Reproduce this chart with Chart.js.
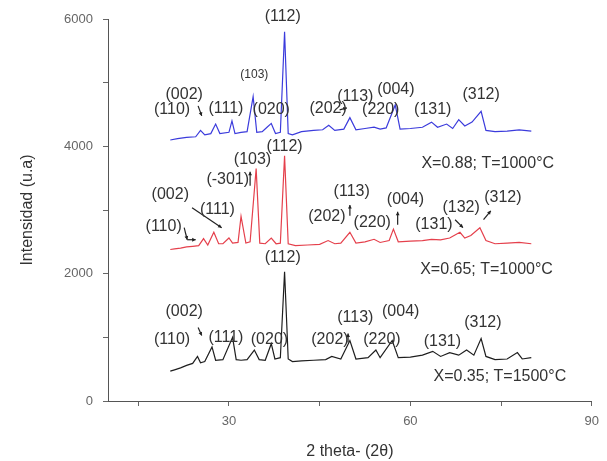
<!DOCTYPE html>
<html>
<head>
<meta charset="utf-8">
<script src="https://cdn.jsdelivr.net/npm/chart.js@4.4.1/dist/chart.umd.min.js"></script>
<style>
  body { margin: 0; background: #fff; }
  #wrap { width: 607px; height: 461px; }
</style>
</head>
<body>
<div id="wrap"><canvas id="xrdChart"></canvas></div>
<script>
/* ================= DATA ================= */
// X=0.35; T=1500°C (black)
const thetaBlack = [20.3, 21, 22, 23, 24, 24.8, 25.3, 26, 27.2, 27.8, 29, 30.6, 31.2, 32, 33, 34.2, 35, 36, 37, 37.6, 38.5, 39.2, 39.8, 40.5, 42, 44, 46, 47, 48.5, 50, 51, 53, 54.3, 55, 57, 58, 60, 62, 63.7, 65, 66.5, 68, 69.3, 70.5, 71.7, 72.5, 74, 76, 77.7, 78.5, 80];
const intBlack   = [470, 490, 520, 560, 590, 700, 600, 620, 850, 640, 650, 1000, 650, 640, 650, 800, 650, 640, 900, 660, 680, 2030, 660, 620, 630, 640, 650, 700, 660, 950, 660, 680, 800, 680, 950, 680, 690, 720, 780, 700, 760, 720, 800, 720, 980, 700, 650, 660, 760, 660, 680];

// X=0.65; T=1000°C (red)
const thetaRed = [20.3, 21, 22, 23, 24, 25, 25.8, 26.5, 27.5, 28.3, 29, 30, 30.6, 31.5, 32, 32.8, 33.5, 34.5, 35.1, 36, 37, 37.8, 38.5, 39.2, 39.8, 41, 43, 45, 46.4, 47.5, 48.5, 50, 51, 52.5, 54, 55, 56.5, 57.2, 58, 60, 62, 63.5, 65, 66.5, 68.2, 69, 70, 71.5, 72.5, 74, 76, 78, 80];
const intRed   = [2380, 2390, 2400, 2420, 2430, 2440, 2550, 2450, 2650, 2470, 2470, 2560, 2480, 2490, 2900, 2480, 2500, 3650, 2480, 2470, 2560, 2470, 2480, 3850, 2470, 2440, 2450, 2460, 2520, 2470, 2480, 2650, 2480, 2500, 2540, 2490, 2520, 2700, 2500, 2510, 2520, 2540, 2530, 2560, 2650, 2560, 2600, 2720, 2520, 2470, 2480, 2490, 2470];

// X=0.88; T=1000°C (blue)
const thetaBlue = [20.3, 21.5, 23, 24.5, 25.3, 26, 27, 27.8, 28.5, 30, 30.5, 31, 32, 33, 34, 34.6, 35.5, 36.3, 37, 37.7, 38.5, 39.2, 39.8, 40.5, 42, 44, 45.5, 46.5, 47.5, 49, 50, 51, 52.5, 54, 55, 56, 57.5, 58.3, 60, 62, 63.5, 64.5, 66, 67, 68, 69, 70.2, 71.7, 72.5, 74, 76, 78, 80];
const intBlue   = [4100, 4120, 4140, 4150, 4250, 4180, 4200, 4350, 4200, 4220, 4400, 4200, 4220, 4230, 4780, 4220, 4230, 4300, 4360, 4200, 4220, 5800, 4200, 4180, 4230, 4250, 4260, 4330, 4250, 4270, 4450, 4260, 4280, 4300, 4270, 4290, 4650, 4270, 4280, 4300, 4380, 4300, 4350, 4280, 4420, 4320, 4380, 4550, 4250, 4230, 4240, 4260, 4240];

// axis ticks
const xTicks = [15, 30, 45, 60, 75, 90];
const xTickLabels = [30, 60, 90];
const yTicks = [0, 1000, 2000, 3000, 4000, 5000, 6000];
const yTickLabels = [0, 2000, 4000, 6000];

// peak labels (text, 2theta, intensity)
const peakText  = ["(112)", "(002)", "(110)", "(111)", "(020)", "(202)", "(113)", "(004)", "(220)", "(131)", "(312)",
                   "(103)", "(112)", "(-301)", "(002)", "(111)", "(110)", "(202)", "(113)", "(004)", "(220)", "(131)", "(132)", "(312)",
                   "(112)", "(002)", "(110)", "(111)", "(020)", "(202)", "(113)", "(004)", "(220)", "(131)", "(312)"];
const peakTheta = [38.9, 22.6, 20.6, 29.5, 37, 46.4, 50.9, 57.6, 55.1, 63.7, 71.7,
                   33.9, 39.2, 29.8, 20.3, 28.1, 19.2, 46.2, 50.3, 59.2, 53.7, 63.9, 68.4, 75.3,
                   38.9, 22.6, 20.6, 29.5, 36.7, 46.7, 50.9, 58.4, 55.3, 65.3, 72];
const peakInt   = [6040, 4810, 4570, 4600, 4570, 4600, 4780, 4890, 4570, 4570, 4810,
                   3790, 4000, 3475, 3240, 3000, 2740, 2900, 3290, 3160, 2800, 2770, 3030, 3190,
                   2246, 1410, 965, 990, 965, 965, 1305, 1410, 965, 940, 1225];

const smallText  = ["(103)"];
const smallTheta = [34.2];
const smallInt   = [5120];

const condText  = ["X=0.88; T=1000°C", "X=0.65; T=1000°C", "X=0.35; T=1500°C"];
const condTheta = [72.8, 72.6, 74.8];
const condInt   = [3736, 2063, 389];

// pointer arrows from labels to peaks (start -> end, head at end)
const arrowTheta0 = [23.9, 22.6, 23.1, 33.5, 50.0, 57.9, 67.4, 72.1, 24.9, 24.9, 49.7, 48.3];
const arrowInt0   = [3035, 2722, 2533, 3380, 2910, 2769, 2847, 2847, 4635, 1153, 918, 4573];
const arrowTheta1 = [28.8, 23.1, 24.5, 33.5, 50.0, 57.9, 68.7, 73.3, 25.5, 25.5, 49.7, 49.5];
const arrowInt1   = [2722, 2533, 2533, 3600, 3080, 2973, 2722, 2988, 4478, 1027, 1059, 4604];

/* ================= HELPERS ================= */
function pts(xs, ys) {
    return xs.map((x, i) => ({ x: x, y: ys[i] }));
}

const labelPlugin = {
    id: "peakLabels",
    afterDatasetsDraw(chart) {
        const ctx = chart.ctx;
        const sx = chart.scales.x, sy = chart.scales.y;
        ctx.save();

        // arrows
        ctx.strokeStyle = "#222";
        ctx.fillStyle = "#222";
        ctx.lineWidth = 1.2;
        arrowTheta0.forEach((t, i) => {
            const x0 = sx.getPixelForValue(t), y0 = sy.getPixelForValue(arrowInt0[i]);
            const x1 = sx.getPixelForValue(arrowTheta1[i]), y1 = sy.getPixelForValue(arrowInt1[i]);
            ctx.beginPath();
            ctx.moveTo(x0, y0);
            ctx.lineTo(x1, y1);
            ctx.stroke();
            const a = Math.atan2(y1 - y0, x1 - x0);
            ctx.beginPath();
            ctx.moveTo(x1, y1);
            ctx.lineTo(x1 - 4 * Math.cos(a - 0.5), y1 - 4 * Math.sin(a - 0.5));
            ctx.lineTo(x1 - 4 * Math.cos(a + 0.5), y1 - 4 * Math.sin(a + 0.5));
            ctx.closePath();
            ctx.fill();
        });

        ctx.fillStyle = "#333";
        ctx.textAlign = "center";
        ctx.textBaseline = "middle";

        ctx.font = "16px 'Liberation Sans', Arial, sans-serif";
        peakText.forEach((t, i) => {
            ctx.fillText(t, sx.getPixelForValue(peakTheta[i]), sy.getPixelForValue(peakInt[i]));
        });

        ctx.font = "12px 'Liberation Sans', Arial, sans-serif";
        smallText.forEach((t, i) => {
            ctx.fillText(t, sx.getPixelForValue(smallTheta[i]), sy.getPixelForValue(smallInt[i]));
        });

        ctx.font = "16px 'Liberation Sans', Arial, sans-serif";
        condText.forEach((t, i) => {
            ctx.fillText(t, sx.getPixelForValue(condTheta[i]), sy.getPixelForValue(condInt[i]));
        });
        ctx.restore();
    }
};

/* ================= CHART ================= */
const tickFont = { family: "'Liberation Sans', Arial, sans-serif", size: 13 };
const titleFont = { family: "'Liberation Sans', Arial, sans-serif", size: 16 };

new Chart(document.getElementById("xrdChart"), {
    type: "line",
    data: {
        datasets: [
            { label: "X=0.35; T=1500°C", data: pts(thetaBlack, intBlack), borderColor: "#1e1e1e" },
            { label: "X=0.65; T=1000°C", data: pts(thetaRed, intRed), borderColor: "#e5404c" },
            { label: "X=0.88; T=1000°C", data: pts(thetaBlue, intBlue), borderColor: "#3b3bdc" }
        ]
    },
    options: {
        responsive: true,
        maintainAspectRatio: false,
        animation: false,
        layout: { padding: { left: 0, right: 15, top: 19, bottom: 0 } },
        elements: {
            line: { borderWidth: 1.2, tension: 0 },
            point: { radius: 0 }
        },
        plugins: {
            legend: { display: false },
            tooltip: { enabled: false }
        },
        scales: {
            x: {
                type: "linear",
                min: 10,
                max: 90,
                afterBuildTicks: s => { s.ticks = xTicks.map(v => ({ value: v })); },
                afterFit: s => { s.height = 60; },
                ticks: {
                    autoSkip: false,
                    maxRotation: 0,
                    padding: 8,
                    color: "#666",
                    font: tickFont,
                    callback: v => xTickLabels.includes(v) ? v : ""
                },
                grid: { drawOnChartArea: false, drawTicks: true, tickLength: 5, color: "#666" },
                border: { color: "#555", width: 1 },
                title: {
                    display: true,
                    text: "2 theta- (2θ)",
                    color: "#333",
                    font: titleFont,
                    padding: { top: 0, bottom: 0 }
                }
            },
            y: {
                min: 0,
                max: 6000,
                afterBuildTicks: s => { s.ticks = yTicks.map(v => ({ value: v })); },
                afterFit: s => { s.width = 108; },
                ticks: {
                    padding: 10,
                    color: "#666",
                    font: tickFont,
                    callback: v => yTickLabels.includes(v) ? v : ""
                },
                grid: { drawOnChartArea: false, drawTicks: true, tickLength: 5, color: "#666" },
                border: { color: "#555", width: 1 },
                title: {
                    display: true,
                    text: "Intensidad (u.a)",
                    color: "#333",
                    font: titleFont,
                    padding: { top: 18, bottom: 0 }
                }
            }
        }
    },
    plugins: [labelPlugin]
});
</script>
</body>
</html>
